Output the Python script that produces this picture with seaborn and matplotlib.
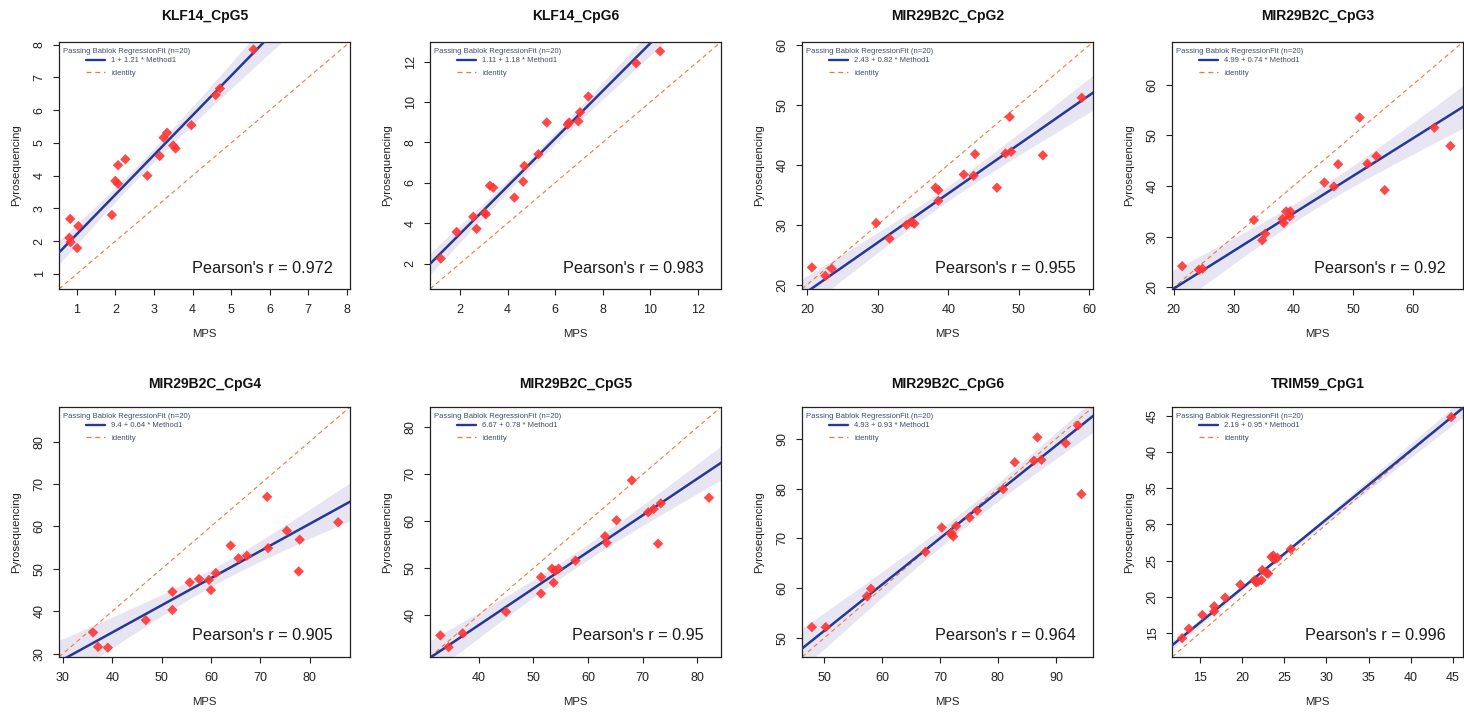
import numpy as np
import matplotlib
matplotlib.use("Agg")
import matplotlib.pyplot as plt
import seaborn as sns
from matplotlib.lines import Line2D

# ---------------- data ----------------
titles = ["KLF14_CpG5", "KLF14_CpG6", "MIR29B2C_CpG2", "MIR29B2C_CpG3",
          "MIR29B2C_CpG4", "MIR29B2C_CpG5", "MIR29B2C_CpG6", "TRIM59_CpG1"]

mps_klf14_cpg5 = [5.58, 4.71, 4.60, 3.97, 3.34, 3.25, 3.50, 3.56, 3.15, 2.83,
                  2.26, 2.07, 2.00, 2.07, 1.91, 0.83, 1.04, 0.81, 0.84, 1.01]
pyro_klf14_cpg5 = [7.85, 6.66, 6.46, 5.54, 5.31, 5.16, 4.92, 4.83, 4.60, 4.00,
                   4.50, 4.32, 3.84, 3.75, 2.80, 2.68, 2.46, 2.10, 1.97, 1.79]

mps_klf14_cpg6 = [10.42, 9.41, 7.40, 7.05, 6.98, 5.65, 6.59, 6.53, 5.30, 4.71,
                  4.66, 4.29, 3.26, 3.40, 3.05, 2.56, 2.70, 1.86, 1.19, 3.09]
pyro_klf14_cpg6 = [12.52, 11.93, 10.28, 9.50, 9.05, 8.99, 8.99, 8.89, 7.42, 6.84,
                   6.06, 5.27, 5.86, 5.76, 4.50, 4.32, 3.72, 3.57, 2.25, 4.44]

mps_mir_cpg2 = [58.9, 48.7, 43.8, 48.1, 48.9, 53.4, 42.2, 43.6, 38.2, 38.6,
                46.9, 38.6, 29.8, 34.1, 34.8, 35.2, 31.7, 20.7, 23.5, 22.6]
pyro_mir_cpg2 = [51.2, 48.0, 41.8, 41.9, 42.2, 41.6, 38.4, 38.2, 36.2, 35.8,
                 36.2, 34.0, 30.3, 30.0, 30.5, 30.2, 27.7, 22.9, 22.7, 21.5]

mps_mir_cpg3 = [51.1, 63.6, 66.3, 53.9, 52.4, 47.5, 45.2, 46.8, 55.3, 33.4,
                38.8, 39.5, 39.4, 38.2, 38.4, 35.3, 34.8, 21.4, 24.2, 24.8]
pyro_mir_cpg3 = [53.5, 51.5, 47.9, 45.9, 44.4, 44.3, 40.7, 39.9, 39.2, 33.3,
                 35.0, 35.0, 34.0, 33.5, 32.7, 30.6, 29.3, 24.2, 23.5, 23.7]

mps_mir_cpg4 = [71.4, 85.8, 75.4, 78.0, 71.6, 64.0, 65.6, 67.3, 77.8, 61.0,
                59.6, 57.6, 55.7, 60.0, 52.2, 52.2, 46.8, 36.1, 37.1, 39.1]
pyro_mir_cpg4 = [67.0, 61.0, 59.0, 56.9, 54.9, 55.5, 52.5, 53.1, 49.4, 49.0,
                 47.4, 47.6, 46.8, 45.0, 44.6, 40.3, 37.9, 35.0, 31.6, 31.4]

mps_mir_cpg5 = [68.0, 82.1, 73.3, 72.0, 71.0, 65.2, 63.1, 63.4, 72.8, 57.7,
                53.4, 54.6, 54.0, 51.4, 53.7, 51.4, 45.0, 33.0, 37.1, 34.5]
pyro_mir_cpg5 = [68.7, 65.0, 63.8, 62.6, 61.9, 60.2, 56.8, 55.4, 55.2, 51.6,
                 49.9, 49.9, 49.5, 48.1, 46.9, 44.6, 40.7, 35.7, 36.1, 33.2]

mps_mir_cpg6 = [93.8, 86.8, 91.7, 86.2, 87.5, 82.9, 94.4, 80.9, 76.4, 75.1,
                72.8, 70.3, 71.9, 72.3, 67.5, 58.1, 57.4, 47.9, 50.3, 72.0]
pyro_mir_cpg6 = [92.7, 90.3, 89.1, 85.6, 85.8, 85.3, 78.9, 79.9, 75.6, 74.2,
                 72.5, 72.2, 70.9, 70.4, 67.3, 59.9, 58.4, 52.2, 52.2, 71.1]

mps_trim59_cpg1 = [44.8, 25.8, 23.5, 23.7, 24.2, 22.4, 22.9, 21.5, 21.9, 22.3,
                   19.8, 18.0, 16.7, 16.7, 15.3, 13.7, 12.9, 23.9, 23.1, 21.7]
pyro_trim59_cpg1 = [44.8, 26.6, 25.5, 25.7, 25.4, 23.7, 23.3, 22.3, 22.1, 22.3,
                    21.7, 19.9, 18.7, 18.0, 17.5, 15.6, 14.3, 25.2, 23.2, 22.0]

mps_values = [mps_klf14_cpg5, mps_klf14_cpg6, mps_mir_cpg2, mps_mir_cpg3,
              mps_mir_cpg4, mps_mir_cpg5, mps_mir_cpg6, mps_trim59_cpg1]
pyro_values = [pyro_klf14_cpg5, pyro_klf14_cpg6, pyro_mir_cpg2, pyro_mir_cpg3,
               pyro_mir_cpg4, pyro_mir_cpg5, pyro_mir_cpg6, pyro_trim59_cpg1]

intercepts = [1, 1.11, 2.43, 4.99, 9.4, 6.67, 4.93, 2.19]
slopes = [1.21, 1.18, 0.82, 0.74, 0.64, 0.78, 0.93, 0.95]
pearson_r = ["0.972", "0.983", "0.955", "0.92", "0.905", "0.95", "0.964", "0.996"]
n_pairs = 20

axis_limits = [(0.54, 8.08), (0.74, 12.98), (19.3, 60.5), (19.7, 68.4),
               (29.2, 88.2), (31.1, 84.3), (46.2, 96.4), (11.7, 46.2)]
axis_ticks = [list(range(1, 9)), [2, 4, 6, 8, 10, 12], [20, 30, 40, 50, 60],
              [20, 30, 40, 50, 60], [30, 40, 50, 60, 70, 80], [40, 50, 60, 70, 80],
              [50, 60, 70, 80, 90], [15, 20, 25, 30, 35, 40, 45]]

# ---------------- style ----------------
sns.set_theme(style="ticks")
plt.rcParams["font.family"] = ["Liberation Sans", "DejaVu Sans"]

W, H = 1464, 712
fig = plt.figure(figsize=(W / 100, H / 100), dpi=100)

col_left = [59, 430, 802, 1172]
ax_w = 291
row_tb = [(42, 289), (407, 657)]
title_pad = [16, 13.5]

LINE_COL = "#273894"
ID_COL = "#F2773F"
BAND_COL = "#E8E5F3"
PT_COL = "#FF3535"
LEG_COL = "#3d4c6c"
TXT_COL = "#222222"

for i in range(8):
    r, c = divmod(i, 4)
    top, bot = row_tb[r]
    ax = fig.add_axes([col_left[c] / W, 1 - bot / H, ax_w / W, (bot - top) / H])
    x = np.asarray(mps_values[i], float)
    y = np.asarray(pyro_values[i], float)
    a, b = intercepts[i], slopes[i]
    lo, hi = axis_limits[i]

    # confidence band around the fitted line
    xg = np.linspace(lo - 1, hi + 1, 200)
    fit = a + b * xg
    resid = y - (a + b * x)
    n = len(x)
    s = np.sqrt(np.sum(resid ** 2) / (n - 2))
    sxx = np.sum((x - x.mean()) ** 2)
    se = s * np.sqrt(1 / n + (xg - x.mean()) ** 2 / sxx)
    ax.fill_between(xg, fit - 2.1 * se, fit + 2.1 * se, color=BAND_COL, lw=0, zorder=1)

    # identity line
    sns.lineplot(x=[lo, hi], y=[lo, hi], ax=ax, color=ID_COL, lw=0.8,
                 linestyle=(0, (4, 3)), zorder=2)
    # regression line
    sns.lineplot(x=xg, y=fit, ax=ax, color=LINE_COL, lw=1.8, zorder=3)
    # points
    sns.scatterplot(x=x, y=y, ax=ax, marker="D", s=28, color=PT_COL,
                    edgecolor="none", alpha=0.9, zorder=4, legend=False)

    ax.set_xlim(lo, hi)
    ax.set_ylim(lo, hi)
    ax.set_xticks(axis_ticks[i])
    ax.set_yticks(axis_ticks[i])
    ax.set_xticklabels([f"{t:g}" for t in axis_ticks[i]])
    ax.set_yticklabels([f"{t:g}" for t in axis_ticks[i]], rotation=90, va="center")
    ax.tick_params(axis="both", direction="out", length=4.5, width=0.8,
                   labelsize=9, labelcolor=TXT_COL, color=TXT_COL)
    ax.tick_params(axis="x", pad=6)
    ax.tick_params(axis="y", pad=5)
    for sp in ax.spines.values():
        sp.set_visible(True)
        sp.set_linewidth(0.9)
        sp.set_color(TXT_COL)

    ax.set_xlabel("MPS", fontsize=8.2, color=TXT_COL, va="center")
    ax.set_ylabel("Pyrosequencing", fontsize=8.2, color=TXT_COL, va="center")
    ax.xaxis.set_label_coords(0.5, -45 / (bot - top))
    ax.yaxis.set_label_coords(-43 / ax_w, 0.5)
    ax.set_title(titles[i], fontsize=10, fontweight="bold", pad=title_pad[r],
                 color="#111111")

    # legend
    ax.text(4 / ax_w, 1 - 9.5 / (bot - top),
            f"Passing Bablok RegressionFit (n={n_pairs})", transform=ax.transAxes,
            ha="left", va="center", fontsize=5.5, color=LEG_COL, zorder=6)
    handles = [Line2D([0], [0], color=LINE_COL, lw=1.7),
               Line2D([0], [0], color=ID_COL, lw=0.9, linestyle=(0, (4, 3)))]
    labels = [f"{a:g} + {b:g} * Method1", "identity"]
    leg = ax.legend(handles, labels, loc="upper left",
                    bbox_to_anchor=(27 / ax_w, 1 - 15 / (bot - top)),
                    frameon=False, fontsize=5.5, handlelength=2.5,
                    handletextpad=0.8, labelspacing=0.7, borderpad=0,
                    borderaxespad=0)
    for t in leg.get_texts():
        t.set_color(LEG_COL)

    ax.text(0.94, 0.085, f"Pearson's r = {pearson_r[i]}", transform=ax.transAxes,
            ha="right", va="center", fontsize=11.7, color="#1a1a1a", zorder=6)

fig.savefig("out.png", dpi=100)
